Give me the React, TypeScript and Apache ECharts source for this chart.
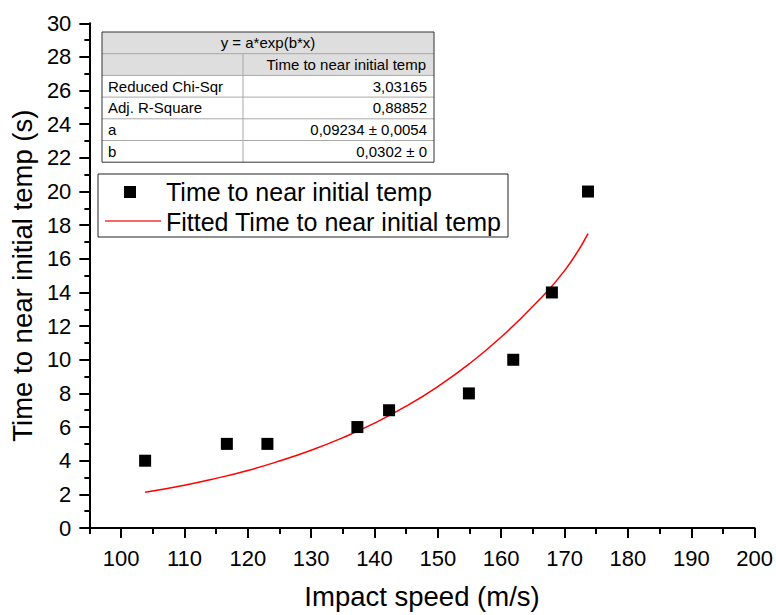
import React, { useEffect, useRef } from "react";
import * as echarts from "echarts";

const speeds = [103.8, 116.7, 123.1, 137.3, 142.3, 154.9, 161.9, 168.0, 173.7];
const times = [4, 5, 5, 6, 7, 8, 10, 14, 20];

// fitted curve
const fitX = [103.8, 110, 115, 120, 125, 130, 135, 140, 145, 150, 155, 160, 165, 170, 173.7];
const fitY = [2.12, 2.54, 2.95, 3.42, 3.98, 4.62, 5.37, 6.23, 7.24, 8.41, 9.77, 11.35, 13.18, 15.3, 17.5];

const xMajorTicks = [100, 110, 120, 130, 140, 150, 160, 170, 180, 190, 200];
const xMinorTicks = [95, 105, 115, 125, 135, 145, 155, 165, 175, 185, 195];

const tableTitle = "y = a*exp(b*x)";
const tableColumn = "Time to near initial temp";
const tableLabels = ["Reduced Chi-Sqr", "Adj. R-Square", "a", "b"];
const tableValues = ["3,03165", "0,88852", "0,09234 ± 0,0054", "0,0302 ± 0"];

const legendNames = ["Time to near initial temp", "Fitted Time to near initial temp"];

const FONT = "'Liberation Sans', Arial, Helvetica, sans-serif";

export default function App() {
  const ref = useRef<HTMLDivElement>(null);
  useEffect(() => {
    if (!ref.current) return;
    const chart = echarts.init(ref.current, null, { renderer: "svg" });

    const tx0 = 102, tx1 = 434, txm = 243, ty0 = 32, rowH = 21.7;
    const tableEls: any[] = [];
    tableEls.push({ type: "rect", shape: { x: tx0, y: ty0, width: tx1 - tx0, height: rowH * 2 }, style: { fill: "#dedede" } });
    tableEls.push({ type: "rect", shape: { x: tx0, y: ty0 + rowH * 2, width: tx1 - tx0, height: rowH * 4 }, style: { fill: "#ffffff" } });
    for (let k = 1; k < 6; k++) {
      tableEls.push({ type: "line", shape: { x1: tx0, y1: ty0 + k * rowH, x2: tx1, y2: ty0 + k * rowH }, style: { stroke: "#a8a8a8", lineWidth: 1 } });
    }
    tableEls.push({ type: "line", shape: { x1: txm, y1: ty0 + rowH, x2: txm, y2: ty0 + 6 * rowH }, style: { stroke: "#a8a8a8", lineWidth: 1 } });
    tableEls.push({ type: "rect", shape: { x: tx0, y: ty0, width: tx1 - tx0, height: rowH * 6 }, style: { fill: "none", stroke: "#333333", lineWidth: 1 } });
    tableEls.push({ type: "text", x: (tx0 + tx1) / 2, y: ty0 + rowH / 2, style: { text: tableTitle, font: `15px ${FONT}`, fill: "#000", align: "center", verticalAlign: "middle" } });
    tableEls.push({ type: "text", x: tx1 - 8, y: ty0 + rowH * 1.5, style: { text: tableColumn, font: `15px ${FONT}`, fill: "#000", align: "right", verticalAlign: "middle" } });
    tableLabels.forEach((l, i) => {
      tableEls.push({ type: "text", x: tx0 + 6, y: ty0 + rowH * (2.5 + i), style: { text: l, font: `15px ${FONT}`, fill: "#000", align: "left", verticalAlign: "middle" } });
      tableEls.push({ type: "text", x: tx1 - 7, y: ty0 + rowH * (2.5 + i), style: { text: tableValues[i], font: `15px ${FONT}`, fill: "#000", align: "right", verticalAlign: "middle" } });
    });

    const legendEls: any[] = [
      { type: "rect", shape: { x: 98, y: 174, width: 410, height: 63 }, style: { fill: "#fff", stroke: "#222", lineWidth: 1 } },
      { type: "rect", shape: { x: 124, y: 186, width: 12, height: 12 }, style: { fill: "#000" } },
      { type: "line", shape: { x1: 105, y1: 221, x2: 161, y2: 221 }, style: { stroke: "#ff3030", lineWidth: 1.3 } },
      { type: "text", x: 166, y: 192, style: { text: legendNames[0], font: `25px ${FONT}`, fill: "#000", align: "left", verticalAlign: "middle" } },
      { type: "text", x: 166, y: 222, style: { text: legendNames[1], font: `25px ${FONT}`, fill: "#000", align: "left", verticalAlign: "middle" } },
    ];

    const axisLabelStyle = { color: "#000", fontSize: 22, fontFamily: FONT };

    chart.setOption({
      animation: false,
      backgroundColor: "#fff",
      textStyle: { fontFamily: FONT },
      grid: { left: 87, right: 20, top: 23.3, bottom: 80.7 },
      xAxis: [
        {
          type: "value",
          min: 95,
          max: 200,
          name: "Impact speed (m/s)",
          nameLocation: "middle",
          nameGap: 54,
          nameTextStyle: { color: "#000", fontSize: 27.5, fontFamily: FONT },
          axisLine: { show: true, lineStyle: { color: "#000", width: 2 } },
          axisTick: { show: true, length: 10, customValues: xMajorTicks, lineStyle: { color: "#000", width: 2 } },
          axisLabel: { ...axisLabelStyle, margin: 19, customValues: xMajorTicks },
          splitLine: { show: false },
        },
        {
          type: "value",
          min: 95,
          max: 200,
          position: "bottom",
          axisLine: { show: false },
          axisTick: { show: true, length: 6, customValues: xMinorTicks, lineStyle: { color: "#000", width: 2 } },
          axisLabel: { show: false },
          splitLine: { show: false },
        },
      ],
      yAxis: {
        type: "value",
        min: 0,
        max: 30,
        interval: 2,
        name: "Time to near initial temp (s)",
        nameLocation: "middle",
        nameGap: 48,
        nameTextStyle: { color: "#000", fontSize: 27.5, fontFamily: FONT },
        axisLine: { show: true, lineStyle: { color: "#000", width: 2 } },
        axisTick: { show: true, length: 10, lineStyle: { color: "#000", width: 2 } },
        minorTick: { show: true, splitNumber: 2, length: 5, lineStyle: { color: "#000", width: 2 } },
        axisLabel: { ...axisLabelStyle, margin: 18 },
        splitLine: { show: false },
      },
      series: [
        {
          name: legendNames[1],
          type: "line",
          data: fitX.map((x, i) => [x, fitY[i]]),
          smooth: true,
          showSymbol: false,
          lineStyle: { color: "#ff0000", width: 1.5 },
          z: 2,
        },
        {
          name: legendNames[0],
          type: "scatter",
          data: speeds.map((x, i) => [x, times[i]]),
          symbol: "rect",
          symbolSize: 12,
          itemStyle: { color: "#000", opacity: 1 },
          z: 3,
        },
      ],
      graphic: [...tableEls, ...legendEls],
    });
    return () => chart.dispose();
  }, []);
  return <div ref={ref} style={{ position: "fixed", left: 0, top: 0, width: 776, height: 615 }} />;
}
